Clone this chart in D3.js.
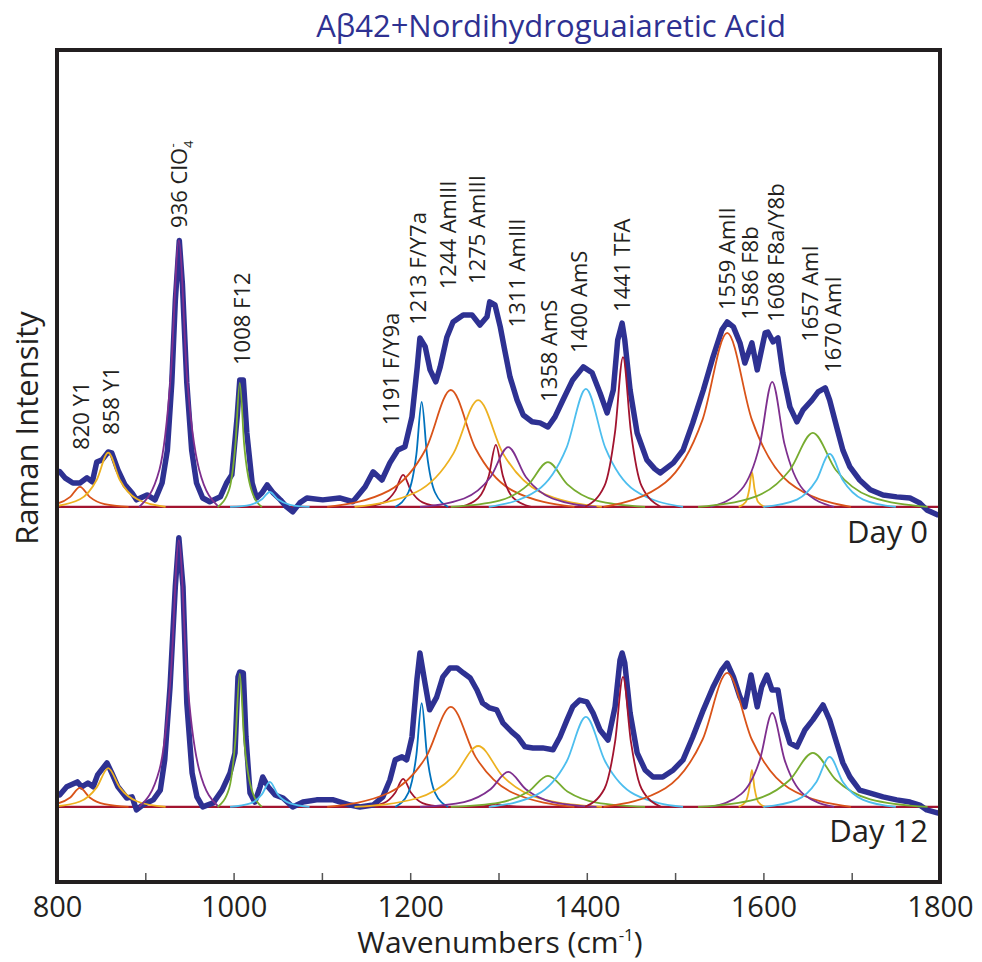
<!DOCTYPE html>
<html>
<head>
<meta charset="utf-8">
<script src="https://d3js.org/d3.v7.min.js"></script>
<style>
  body { margin: 0; background: #fff; }
  text { font-family: "Open Sans", "DejaVu Sans", sans-serif; fill: #231f20; }
</style>
</head>
<body>
<div id="chart"></div>
<script>
// measured spectra (wavenumber, intensity above each panel's baseline)
const spec0X = [800,803,809,818,826,834,840,845,851,858,862,869,877,885,890,902,911,919,925,930,934,938.5,942,947,952.5,958,965,973,985,992,998,1004,1007,1011,1015,1021,1026,1032,1038,1045,1053,1060,1067,1075,1083,1101,1120,1135,1149,1158,1168,1177,1186,1194,1202,1208,1211,1217,1222.5,1229,1234,1241.6,1248.5,1260,1270,1279,1287,1290,1296,1302,1307,1313,1321,1328,1338,1347,1356,1364,1373,1384,1396,1406,1415,1423,1430,1435,1440,1443,1449,1457,1468,1477,1483,1498,1509,1520,1532,1543,1553,1559,1566,1573.5,1579,1587,1593,1602,1605,1611,1616.5,1622,1630,1638,1645,1655,1662,1670,1675,1683,1690,1698,1709,1721,1735.5,1751,1766,1777,1785,1797,1800];
const spec0Y = [0.13,0.13,0.107,0.088,0.088,0.107,0.092,0.165,0.173,0.202,0.199,0.136,0.081,0.051,0.026,0.044,0.026,0.088,0.209,0.456,0.759,0.98,0.82,0.456,0.209,0.088,0.033,0.019,0.037,0.088,0.118,0.331,0.467,0.467,0.272,0.088,0.033,0.051,0.081,0.051,0.026,0.0,-0.018,0.015,0.033,0.026,0.033,0.019,0.074,0.129,0.099,0.162,0.209,0.221,0.331,0.515,0.621,0.589,0.504,0.46,0.515,0.625,0.68,0.706,0.706,0.669,0.699,0.754,0.743,0.662,0.577,0.478,0.393,0.338,0.313,0.309,0.294,0.331,0.393,0.467,0.515,0.493,0.419,0.346,0.43,0.614,0.676,0.614,0.43,0.272,0.173,0.14,0.125,0.162,0.209,0.309,0.43,0.552,0.651,0.68,0.662,0.603,0.529,0.603,0.504,0.64,0.643,0.607,0.621,0.493,0.368,0.313,0.357,0.393,0.423,0.438,0.393,0.294,0.209,0.147,0.099,0.063,0.044,0.037,0.033,0.015,-0.011,-0.029,-0.03];

const spec12X = [800,803,811,823,828,835,841,846,856.6,862,869,879,885,890,897,909,917,922,928,934,938,942.7,947,953,958.5,965,977,987,996,1001.6,1005,1007,1011,1014,1018.6,1024,1030,1033,1039,1047,1056,1067,1078.6,1094,1113,1132,1143,1158,1169,1177,1183,1190.7,1196,1202,1207.6,1211,1216.7,1222,1230,1237,1245,1253,1260,1268,1275.6,1282,1290,1298,1305,1315,1322,1330,1339,1350,1361.7,1369.6,1377.6,1384,1392,1400,1407,1415,1424,1432,1437.6,1440,1443,1449,1457,1466,1475,1486,1498,1509,1520,1532,1543,1553,1559,1566,1573.5,1579,1586,1593,1598,1604,1609.7,1616.5,1622,1630,1638,1647,1656,1667.5,1675,1683,1690,1698,1709,1721,1735.5,1751,1766,1777,1785,1797,1800];
const spec12Y = [0.044,0.044,0.074,0.092,0.074,0.088,0.074,0.118,0.162,0.125,0.074,0.033,0.037,-0.011,0.007,0.026,0.062,0.173,0.441,0.81,0.99,0.81,0.382,0.125,0.037,0,0.015,0.062,0.125,0.199,0.478,0.496,0.493,0.257,0.051,0.018,0.074,0.11,0.074,0.044,0.033,0,0.018,0.026,0.026,0.007,0,0.007,0.037,0.099,0.173,0.184,0.173,0.257,0.467,0.566,0.456,0.357,0.404,0.478,0.511,0.511,0.493,0.474,0.43,0.382,0.364,0.357,0.309,0.276,0.257,0.221,0.217,0.217,0.21,0.257,0.32,0.368,0.393,0.386,0.346,0.283,0.246,0.368,0.54,0.566,0.529,0.346,0.199,0.136,0.11,0.11,0.136,0.173,0.257,0.357,0.441,0.504,0.529,0.478,0.404,0.368,0.485,0.368,0.441,0.485,0.43,0.43,0.32,0.235,0.221,0.283,0.32,0.375,0.32,0.235,0.162,0.11,0.062,0.051,0.037,0.026,0.018,0.007,-0.011,-0.022,-0.024];

// fitted component bands: sample points
const bandColors = ["#D95319","#EDB120","#7E2F8E","#77AC30","#4DBEEE","#A2142F","#0072BD","#D95319","#EDB120","#A2142F","#7E2F8E","#77AC30","#4DBEEE","#A2142F","#D95319","#EDB120","#7E2F8E","#77AC30","#4DBEEE"];
const bandX = [
  [771,798,815,826,837,854,881],
  [793,826,845,858,871,891,923],
  [893,916,929,938,947,961,983],
  [982,995,1002,1007,1012,1020,1032],
  [996,1019,1032,1041,1050,1064,1086],
  [1147,1170,1183,1192,1201,1214,1237],
  [1183,1198,1207,1213,1219,1228,1243],
  [1106,1176,1218,1246,1274,1316,1386],
  [1137,1207,1249,1277,1305,1347,1417],
  [1257,1277,1289,1297,1305,1317,1337],
  [1211,1261,1291,1311,1331,1361,1411],
  [1246,1301,1334,1356,1378,1411,1466],
  [1289,1344,1377,1399,1421,1454,1509],
  [1398,1420,1432,1441,1450,1462,1484],
  [1419,1489,1531,1559,1587,1629,1699],
  [1572,1580,1584,1587,1590,1594,1602],
  [1540,1575,1596,1610,1624,1645,1680],
  [1526,1591,1630,1656,1682,1721,1786],
  [1600,1638,1660,1675,1690,1713,1750]
];
const bandY0 = [
  [0,.010,.037,.074,.037,.010,0],
  [0,.028,.10,.20,.10,.028,0],
  [0,.137,.49,.98,.49,.137,0],
  [0,.064,.228,.456,.228,.064,0],
  [0,.008,.028,.055,.028,.008,0],
  [0,.017,.059,.118,.059,.017,0],
  [0,.054,.193,.386,.193,.054,0],
  [0,.060,.215,.43,.215,.060,0],
  [0,.055,.197,.393,.197,.055,0],
  [0,.032,.114,.228,.114,.032,0],
  [0,.031,.11,.22,.11,.031,0],
  [0,.023,.083,.165,.083,.023,0],
  [0,.061,.217,.434,.217,.061,0],
  [0,.077,.276,.551,.276,.077,0],
  [0,.09,.32,.64,.32,.09,0],
  [0,.018,.065,.129,.065,.018,0],
  [0,.064,.23,.46,.23,.064,0],
  [0,.038,.136,.272,.136,.038,0],
  [0,.027,.098,.195,.098,.027,0]
];
const bandY12 = [
  [0,.010,.035,.07,.035,.010,0],
  [0,.020,.072,.143,.072,.020,0],
  [0,.137,.49,.98,.49,.137,0],
  [0,.069,.245,.49,.245,.069,0],
  [0,.013,.046,.092,.046,.013,0],
  [0,.014,.052,.103,.052,.014,0],
  [0,.053,.191,.382,.191,.053,0],
  [0,.052,.184,.368,.184,.052,0],
  [0,.031,.112,.224,.112,.031,0],
  [0,.002,.006,.011,.006,.002,0],
  [0,.018,.065,.129,.065,.018,0],
  [0,.016,.057,.114,.057,.016,0],
  [0,.046,.166,.331,.166,.046,0],
  [0,.067,.239,.478,.239,.067,0],
  [0,.069,.247,.493,.247,.069,0],
  [0,.019,.068,.136,.068,.019,0],
  [0,.048,.173,.346,.173,.048,0],
  [0,.028,.100,.199,.100,.028,0],
  [0,.026,.092,.184,.092,.026,0]
];

// peak assignments (Day 0 panel): label, wavenumber, intensity where text starts
const labelText = ["820 Y1","858 Y1","936 ClO","1008 F12","1191 F/Y9a","1213 F/Y7a","1244 AmIII","1275 AmIII","1311 AmIII","1358 AmS","1400 AmS","1441 TFA","1559 AmII","1586 F8b","1608 F8a/Y8b","1657 AmI","1670 AmI"];
const labelX = [828,862,938,1009.5,1179,1209,1243,1276,1321,1358,1392,1440,1559,1585,1615,1653,1679];
const labelY = [0.21,0.265,1.026,0.522,0.30,0.67,0.80,0.82,0.66,0.386,0.566,0.717,0.724,0.688,0.68,0.607,0.493];

const xTicks = [800,900,1000,1100,1200,1300,1400,1500,1600,1700,1800];
const baselineX = [800, 1800];

const margin = {left: 57, right: 42, top: 50, bottom: 80};
const width = 982 - margin.left - margin.right;
const height = 962 - margin.top - margin.bottom;
const offset0 = 1.103, offset12 = 0;

const svg = d3.select("#chart").append("svg")
  .attr("width", 982).attr("height", 962);

svg.append("text")
  .attr("x", 551).attr("y", 37)
  .attr("text-anchor", "middle")
  .style("font-size", "31px")
  .style("fill", "#2e3192")
  .text("Aβ42+Nordihydroguaiaretic Acid");

const g = svg.append("g").attr("transform", `translate(${margin.left},${margin.top})`);

const x = d3.scaleLinear().domain([800, 1800]).range([0, width]);
const y = d3.scaleLinear().domain([-0.276, 2.783]).range([height, 0]);

g.append("clipPath").attr("id", "clip")
  .append("rect").attr("width", width).attr("height", height);

const plot = g.append("g").attr("clip-path", "url(#clip)");

function drawPanel(specX, specY, bandY, off) {
  const base = d3.line().x(d => x(d)).y(() => y(off));
  plot.append("path").datum(baselineX)
    .attr("fill", "none").attr("stroke", "#A2142F").attr("stroke-width", 2.2)
    .attr("d", base);

  const spec = d3.line().x(i => x(specX[i])).y(i => y(specY[i] + off));
  plot.append("path").datum(d3.range(specX.length))
    .attr("fill", "none").attr("stroke", "#2e3192").attr("stroke-width", 5.5)
    .attr("stroke-linejoin", "round").attr("stroke-linecap", "round")
    .attr("d", spec);

  bandX.forEach((xs, b) => {
    const band = d3.line().curve(d3.curveMonotoneX)
      .x(i => x(xs[i])).y(i => y(bandY[b][i] + off));
    plot.append("path").datum(d3.range(xs.length))
      .attr("fill", "none").attr("stroke", bandColors[b]).attr("stroke-width", 1.8)
      .attr("d", band);
  });
}

drawPanel(spec0X, spec0Y, bandY0, offset0);
drawPanel(spec12X, spec12Y, bandY12, offset12);

// peak labels
labelText.forEach((t, i) => {
  const lab = g.append("text")
    .attr("transform", `translate(${x(labelX[i])},${y(labelY[i] + offset0)}) rotate(-90)`)
    .attr("dy", "0.35em")
    .style("font-size", "22px")
    .text(t);
  if (t === "936 ClO") {
    lab.append("tspan").attr("dy", 6).style("font-size", "13px").text("4");
    lab.append("tspan").attr("dx", -7).attr("dy", -16).style("font-size", "13px").text("-");
  }
});

g.append("text").attr("x", 871).attr("y", 493)
  .attr("text-anchor", "end").style("font-size", "31px").text("Day 0");
g.append("text").attr("x", 871).attr("y", 792)
  .attr("text-anchor", "end").style("font-size", "31px").text("Day 12");

// axis
const xAxis = g.append("g").attr("transform", `translate(0,${height})`)
  .call(d3.axisBottom(x).tickValues(xTicks).tickSize(-9).tickPadding(14)
    .tickFormat(d => d % 200 === 0 ? d : ""));
xAxis.select(".domain").remove();
xAxis.selectAll(".tick line").attr("stroke", "#555").attr("stroke-width", 1.5);
xAxis.selectAll(".tick text").style("font-size", "29px").attr("fill", "#231f20")
  .style("font-family", "'Open Sans', sans-serif");

// frame
g.append("rect").attr("width", width).attr("height", height)
  .attr("fill", "none").attr("stroke", "#231f20").attr("stroke-width", 4);

svg.append("text")
  .attr("transform", "translate(38,428) rotate(-90)")
  .attr("text-anchor", "middle")
  .style("font-size", "31px")
  .text("Raman Intensity");

const xl = svg.append("text").attr("x", 500).attr("y", 953)
  .attr("text-anchor", "middle").style("font-size", "30px")
  .text("Wavenumbers (cm");
xl.append("tspan").attr("dy", -12).style("font-size", "17px").text("-1");
xl.append("tspan").attr("dy", 12).text(")");
</script>
</body>
</html>
